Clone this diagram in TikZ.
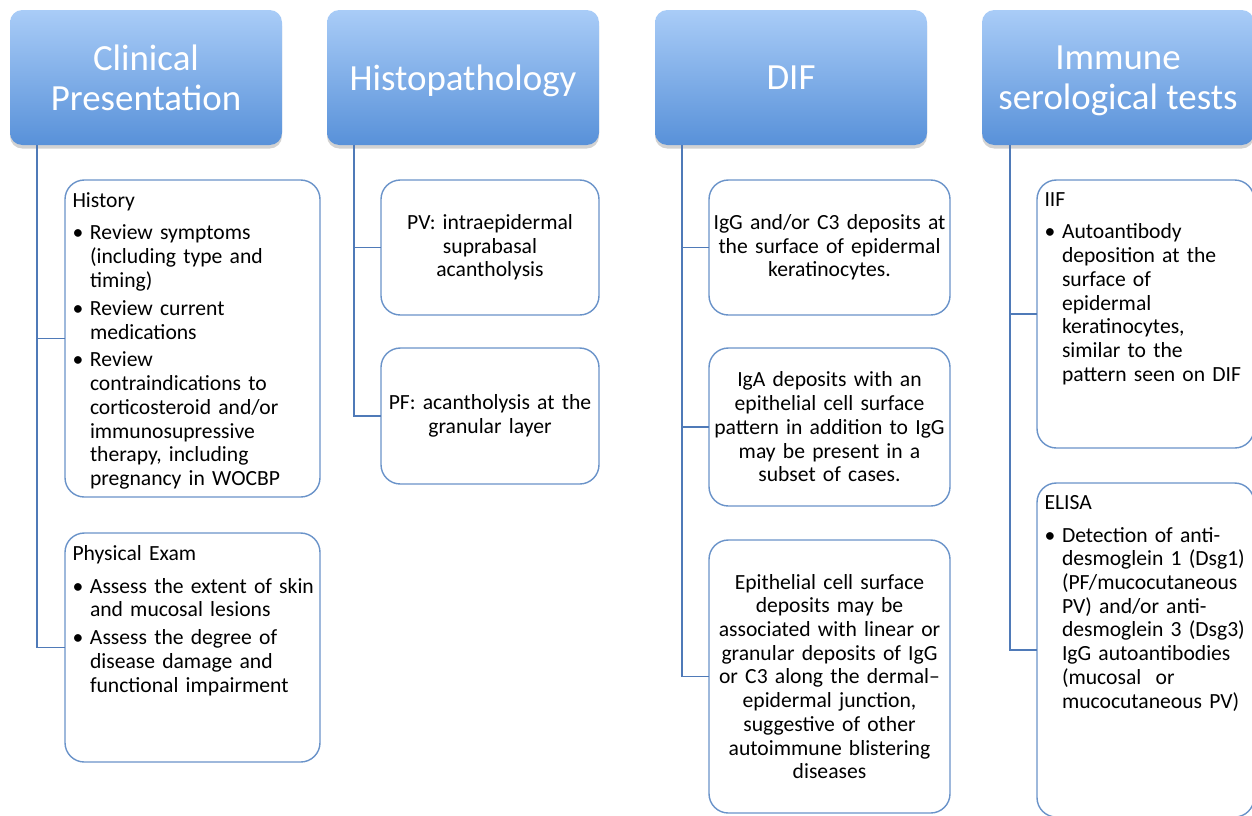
\documentclass[tikz,border=0pt]{standalone}
\usepackage{fontspec}
\setmainfont{Carlito}
\usetikzlibrary{positioning, shadows}
\definecolor{hdtop}{HTML}{A9CCF7}
\definecolor{hdbot}{HTML}{5891D9}
\definecolor{boxline}{HTML}{6A93C9}
\definecolor{linkblue}{HTML}{4F7AB8}
% bullet line with hanging indent
\newcommand{\bpt}[1]{\par\vspace{2.4pt}\hangindent=0.35cm\hangafter=1\noindent\makebox[0.35cm][l]{\textbullet}#1}
\newcommand{\toptext}[2]{\parbox[c][#1][t]{\linewidth}{#2}}
\newcommand{\nohyph}{\hyphenpenalty=10000 \exhyphenpenalty=10000 }

\begin{document}
\begin{tikzpicture}[
        font=\fontsize{12.3}{13.5}\selectfont\nohyph,
        every node/.style={outer sep=0pt},
        % 1px of the 1252x815 layout = 0.02cm
        headbox/.style={rectangle, rounded corners=7pt, anchor=north west,
                        top color=hdtop, bottom color=hdbot, draw=none,
                        minimum width=5.44cm, minimum height=2.7cm,
                        text=white, align=center, text depth=0pt,
                        font=\fontsize{21}{22.6}\selectfont,
                        drop shadow={shadow xshift=0pt, shadow yshift=-2pt,
                                     opacity=0.25, fill=black!70}},
        listbox/.style={rectangle, rounded corners=11pt, anchor=north west,
                        draw=boxline, line width=0.8pt, fill=white,
                        inner xsep=0.15cm, inner ysep=0.25cm,
                        text width=#1, align=left},
        textbox/.style={rectangle, rounded corners=11pt, anchor=north west,
                        draw=boxline, line width=0.8pt, fill=white,
                        inner xsep=0.03cm, inner ysep=0.2cm,
                        text width=#1, align=center},
        link/.style={draw=linkblue, line width=0.7pt}
    ]
        \useasboundingbox (0,0) rectangle (25.04,-16.3);

        \node[headbox] (h1) at (0.2,-0.2)   {Clinical\\Presentation};
        \node[headbox] (h2) at (6.54,-0.2)  {Histopathology};
        \node[headbox] (h3) at (13.1,-0.2)  {DIF};
        \node[headbox] (h4) at (19.64,-0.2) {Immune\\serological tests};

        % column 1
        \node[listbox=4.8cm] (hist) at (1.3,-3.6) {\toptext{5.84cm}{History\par\vspace{2.6pt}%
            \bpt{Review symptoms\\(including type and\\timing)}%
            \bpt{Review current\\medications}%
            \bpt{Review\\contraindications to\\corticosteroid and/or\\immunosupressive\\therapy, including\\pregnancy in WOCBP}}};
        \node[listbox=4.8cm] (phys) at (1.3,-10.66) {\toptext{4.08cm}{Physical Exam\par\vspace{2.6pt}%
            \bpt{\mbox{Assess the extent of skin}\\and mucosal lesions}%
            \bpt{Assess the degree of\\disease damage and\\functional impairment}}};

        % column 2
        \node[textbox=4.3cm, minimum height=2.7cm] (pv) at (7.62,-3.6)
            {PV: intraepidermal\\suprabasal\\acantholysis};
        \node[textbox=4.3cm, minimum height=2.72cm] (pf) at (7.62,-6.96)
            {PF: acantholysis at the\\granular layer};

        % column 3
        \node[textbox=4.76cm, minimum height=2.7cm] (dif1) at (14.18,-3.6)
            {IgG and/or C3 deposits at\\the surface of epidermal\\keratinocytes.};
        \node[textbox=4.76cm, minimum height=3.16cm] (dif2) at (14.18,-6.96)
            {IgA deposits with an\\epithelial cell surface\\pattern in addition to IgG\\may be present in a\\subset of cases.};
        \node[textbox=4.76cm, minimum height=5.46cm] (dif3) at (14.18,-10.8)
            {Epithelial cell surface\\deposits may be\\associated with linear or\\granular deposits of IgG\\or C3 along the dermal--\\epidermal junction,\\suggestive of other\\autoimmune blistering\\diseases};

        % column 4
        \node[listbox=4.04cm] (iif) at (20.74,-3.6) {\toptext{4.86cm}{IIF\par\vspace{2.6pt}%
            \bpt{Autoantibody\\deposition at the\\surface of\\epidermal\\keratinocytes,\\similar to the\\pattern seen on DIF}}};
        \node[listbox=4.04cm] (elisa) at (20.74,-9.66) {\toptext{6.18cm}{ELISA\par\vspace{2.6pt}%
            \bpt{Detection of anti-\\desmoglein 1 (Dsg1)\\(PF/mucocutaneous\\PV) and/or anti-\\desmoglein 3 (Dsg3)\\IgG autoantibodies\\(mucosal\ \ or\\mucocutaneous PV)}}};

        \draw[link] ([xshift=0.54cm]h1.south west) |- (hist.west);
        \draw[link] ([xshift=0.54cm]h1.south west) |- (phys.west);
        \draw[link] ([xshift=0.54cm]h2.south west) |- (pv.west);
        \draw[link] ([xshift=0.54cm]h2.south west) |- (pf.west);
        \draw[link] ([xshift=0.54cm]h3.south west) |- (dif1.west);
        \draw[link] ([xshift=0.54cm]h3.south west) |- (dif2.west);
        \draw[link] ([xshift=0.54cm]h3.south west) |- (dif3.west);
        \draw[link] ([xshift=0.56cm]h4.south west) |- (iif.west);
        \draw[link] ([xshift=0.56cm]h4.south west) |- (elisa.west);
    \end{tikzpicture}
\end{document}
